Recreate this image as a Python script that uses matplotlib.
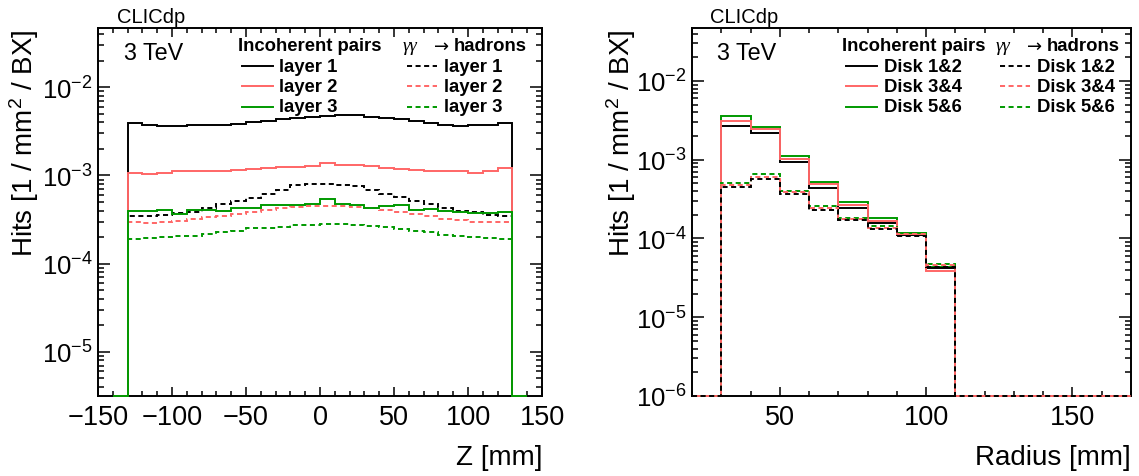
import numpy as np
import matplotlib
matplotlib.use("Agg")
import matplotlib.pyplot as plt
from matplotlib.lines import Line2D
from matplotlib.ticker import LogLocator, MultipleLocator, NullFormatter, LogFormatterMathtext

plt.rcParams['font.family'] = ['Liberation Sans', 'DejaVu Sans']
plt.rcParams['mathtext.fontset'] = 'custom'
plt.rcParams['mathtext.rm'] = 'Liberation Sans'
plt.rcParams['mathtext.it'] = 'Liberation Sans:italic'
plt.rcParams['mathtext.bf'] = 'Liberation Sans:bold'

# barrel layers: hits per mm2 per BX vs z, 10 mm bins (outer bins empty)
z_edges = np.arange(-140, 141, 10)
pairs_layer1 = np.array([0, 3.9, 3.75, 3.65, 3.65, 3.7, 3.72, 3.75, 3.8, 4.0, 4.15, 4.35, 4.5, 4.6,
                         4.75, 4.8, 4.8, 4.65, 4.5, 4.35, 4.1, 3.9, 3.75, 3.65, 3.7, 3.75, 3.9, 0]) * 1e-3
pairs_layer2 = np.array([0, 1.08, 1.05, 1.07, 1.11, 1.11, 1.11, 1.12, 1.14, 1.17, 1.21, 1.25, 1.26, 1.27,
                         1.38, 1.31, 1.32, 1.28, 1.2, 1.19, 1.15, 1.13, 1.13, 1.12, 1.07, 1.12, 1.2, 0]) * 1e-3
pairs_layer3 = np.array([0, 4.0, 4.0, 4.05, 3.67, 4.1, 4.05, 4.0, 4.33, 4.3, 4.68, 4.65, 4.65, 4.75,
                         5.38, 4.75, 4.6, 4.33, 4.45, 4.6, 4.1, 4.15, 3.95, 3.85, 3.78, 3.8, 3.85, 0]) * 1e-4
hadr_layer1 = np.array([0, 3.5, 3.5, 3.6, 3.77, 3.87, 4.26, 4.77, 5.11, 5.57, 6.24, 6.81, 7.7, 7.97,
                        8.0, 7.9, 7.6, 6.81, 6.24, 5.67, 5.11, 4.77, 4.33, 4.0, 3.83, 3.6, 3.5, 0]) * 1e-4
hadr_layer2 = np.array([0, 2.97, 2.9, 2.97, 3.08, 3.22, 3.36, 3.51, 3.67, 3.87, 4.11, 4.33, 4.41, 4.48,
                        4.56, 4.48, 4.41, 4.26, 4.05, 3.87, 3.67, 3.45, 3.25, 3.1, 3.0, 2.97, 2.95, 0]) * 1e-4
hadr_layer3 = np.array([0, 1.91, 1.94, 1.99, 2.05, 2.08, 2.17, 2.27, 2.37, 2.52, 2.54, 2.61, 2.73, 2.78,
                        2.85, 2.83, 2.78, 2.7, 2.61, 2.5, 2.37, 2.27, 2.12, 2.05, 2.0, 1.95, 1.92, 0]) * 1e-4

# endcap disks: hits vs radius, 10 mm bins
r_edges = np.arange(20, 171, 10)
pairs_disk12 = np.array([0, 2.65e-3, 2.2e-3, 9.27e-4, 4.33e-4, 2.41e-4, 1.58e-4, 1.1e-4, 4.25e-5, 0, 0, 0, 0, 0, 0])
pairs_disk34 = np.array([0, 3.1e-3, 2.46e-3, 1.01e-3, 4.91e-4, 2.68e-4, 1.68e-4, 1.14e-4, 3.89e-5, 0, 0, 0, 0, 0, 0])
pairs_disk56 = np.array([0, 3.62e-3, 2.63e-3, 1.12e-3, 5.25e-4, 2.88e-4, 1.8e-4, 1.19e-4, 4.3e-5, 0, 0, 0, 0, 0, 0])
hadr_disk12 = np.array([0, 4.54e-4, 5.69e-4, 3.63e-4, 2.29e-4, 1.71e-4, 1.32e-4, 1.06e-4, 4.33e-5, 0, 0, 0, 0, 0, 0])
hadr_disk34 = np.array([0, 4.82e-4, 6.03e-4, 3.89e-4, 2.43e-4, 1.78e-4, 1.37e-4, 1.13e-4, 4.55e-5, 0, 0, 0, 0, 0, 0])
hadr_disk56 = np.array([0, 5.06e-4, 6.5e-4, 4.04e-4, 2.56e-4, 1.82e-4, 1.45e-4, 1.17e-4, 4.73e-5, 0, 0, 0, 0, 0, 0])

layer_names = ["layer 1", "layer 2", "layer 3"]
disk_names = ["Disk 1&2", "Disk 3&4", "Disk 5&6"]

BLACK = "black"
RED = "#ff6666"
GREEN = "#009900"
DASH = (0, (2.6, 1.8))
LW = 1.4

W, H = 1139, 477
fig = plt.figure(figsize=(W / 100, H / 100), dpi=100)


def box(x0, x1, ytop, ybot):
    return [x0 / W, 1 - ybot / H, (x1 - x0) / W, (ybot - ytop) / H]


ax1 = fig.add_axes(box(98, 542, 29, 397))
ax2 = fig.add_axes(box(692, 1131, 29, 397))


def hist(ax, vals, edges, color, ls, ymin):
    # empty bins are drawn on the bottom of the frame, like ROOT does
    v = np.where(vals > 0, vals, ymin)
    ax.stairs(v, edges, baseline=None, color=color, lw=LW, ls=ls, clip_on=False, zorder=3)


ymin1, ymin2, ymax = 3.16e-6, 1e-6, 0.047

for vals, c in [(hadr_layer1, BLACK), (hadr_layer2, RED), (hadr_layer3, GREEN)]:
    hist(ax1, vals, z_edges, c, DASH, ymin1)
for vals, c in [(pairs_layer1, BLACK), (pairs_layer2, RED), (pairs_layer3, GREEN)]:
    hist(ax1, vals, z_edges, c, '-', ymin1)

for vals, c in [(pairs_disk56, GREEN), (pairs_disk12, BLACK), (pairs_disk34, RED)]:
    hist(ax2, vals, r_edges, c, '-', ymin2)
for vals, c in [(hadr_disk56, GREEN), (hadr_disk34, RED), (hadr_disk12, BLACK)]:
    hist(ax2, vals, r_edges, c, DASH, ymin2)

ax1.set_xlim(-150, 150)
ax1.set_ylim(ymin1, ymax)
ax2.set_xlim(20, 170)
ax2.set_ylim(ymin2, ymax)
ax1.xaxis.set_major_locator(MultipleLocator(50))
ax2.xaxis.set_major_locator(MultipleLocator(50))

for ax in (ax1, ax2):
    ax.set_yscale('log')
    ax.yaxis.set_major_locator(LogLocator(base=10))
    ax.yaxis.set_major_formatter(LogFormatterMathtext())
    ax.yaxis.set_minor_locator(LogLocator(base=10, subs=np.arange(2, 10)))
    ax.yaxis.set_minor_formatter(NullFormatter())
    ax.xaxis.set_minor_locator(MultipleLocator(10))
    ax.tick_params(which='both', direction='in', top=True, right=True, width=1.1)
    ax.tick_params(axis='x', which='major', length=6.5, pad=6, labelsize=19.5)
    ax.tick_params(axis='x', which='minor', length=3.5)
    ax.tick_params(axis='y', which='major', length=8.5, pad=4, labelsize=18.5)
    ax.tick_params(axis='y', which='minor', length=4.5)
    for s in ax.spines.values():
        s.set_linewidth(1.4)
    ax.set_ylabel("Hits [1 / mm$^2$ / BX]", loc='top', fontsize=20, va='center')

ax1.yaxis.set_label_coords(-74 / 444, 1.0)
ax2.yaxis.set_label_coords(-71 / 439, 1.0)
ax1.set_xlabel("Z [mm]", loc='right', fontsize=20, labelpad=10)
ax2.set_xlabel("Radius [mm]", loc='right', fontsize=20, labelpad=10)


def ftext(x, y, s, **kw):
    fig.text(x / W, 1 - y / H, s, va='baseline', **kw)


def fline(x0, x1, y, color, ls):
    fig.add_artist(Line2D([x0 / W, x1 / W], [1 - y / H, 1 - y / H], color=color, lw=LW, ls=ls))


def legend(dx, c1_line, c1_text, names):
    ftext(117 + dx, 23, "CLICdp", fontsize=14.5)
    ftext(124 + dx, 60.5, "3 TeV", fontsize=16.8)
    ftext(c1_line - 4, 51.5, "Incoherent pairs", fontsize=13.3, fontweight='bold')
    ftext(403 + dx, 51.5, "γγ", fontsize=13.5, family=['Liberation Serif', 'DejaVu Serif'], style='italic')
    ftext(442 + dx, 51.5, "→", fontsize=13, ha='center', family=['DejaVu Sans'])
    ftext(527 + dx, 51.5, "hadrons", fontsize=13.3, fontweight='bold', ha='right')
    for yb, c, name in zip([71.7, 92.2, 112.5], [BLACK, RED, GREEN], names):
        fline(c1_line, c1_line + 31, yb - 5, c, '-')
        ftext(c1_text, yb, name, fontsize=13.3, fontweight='bold')
        fline(407 + dx, 437 + dx, yb - 5, c, DASH)
        ftext(444 + dx, yb, name, fontsize=13.3, fontweight='bold')


legend(0, 242, 279, layer_names)
legend(593, 846, 884, disk_names)

fig.savefig("out.png", dpi=100)
